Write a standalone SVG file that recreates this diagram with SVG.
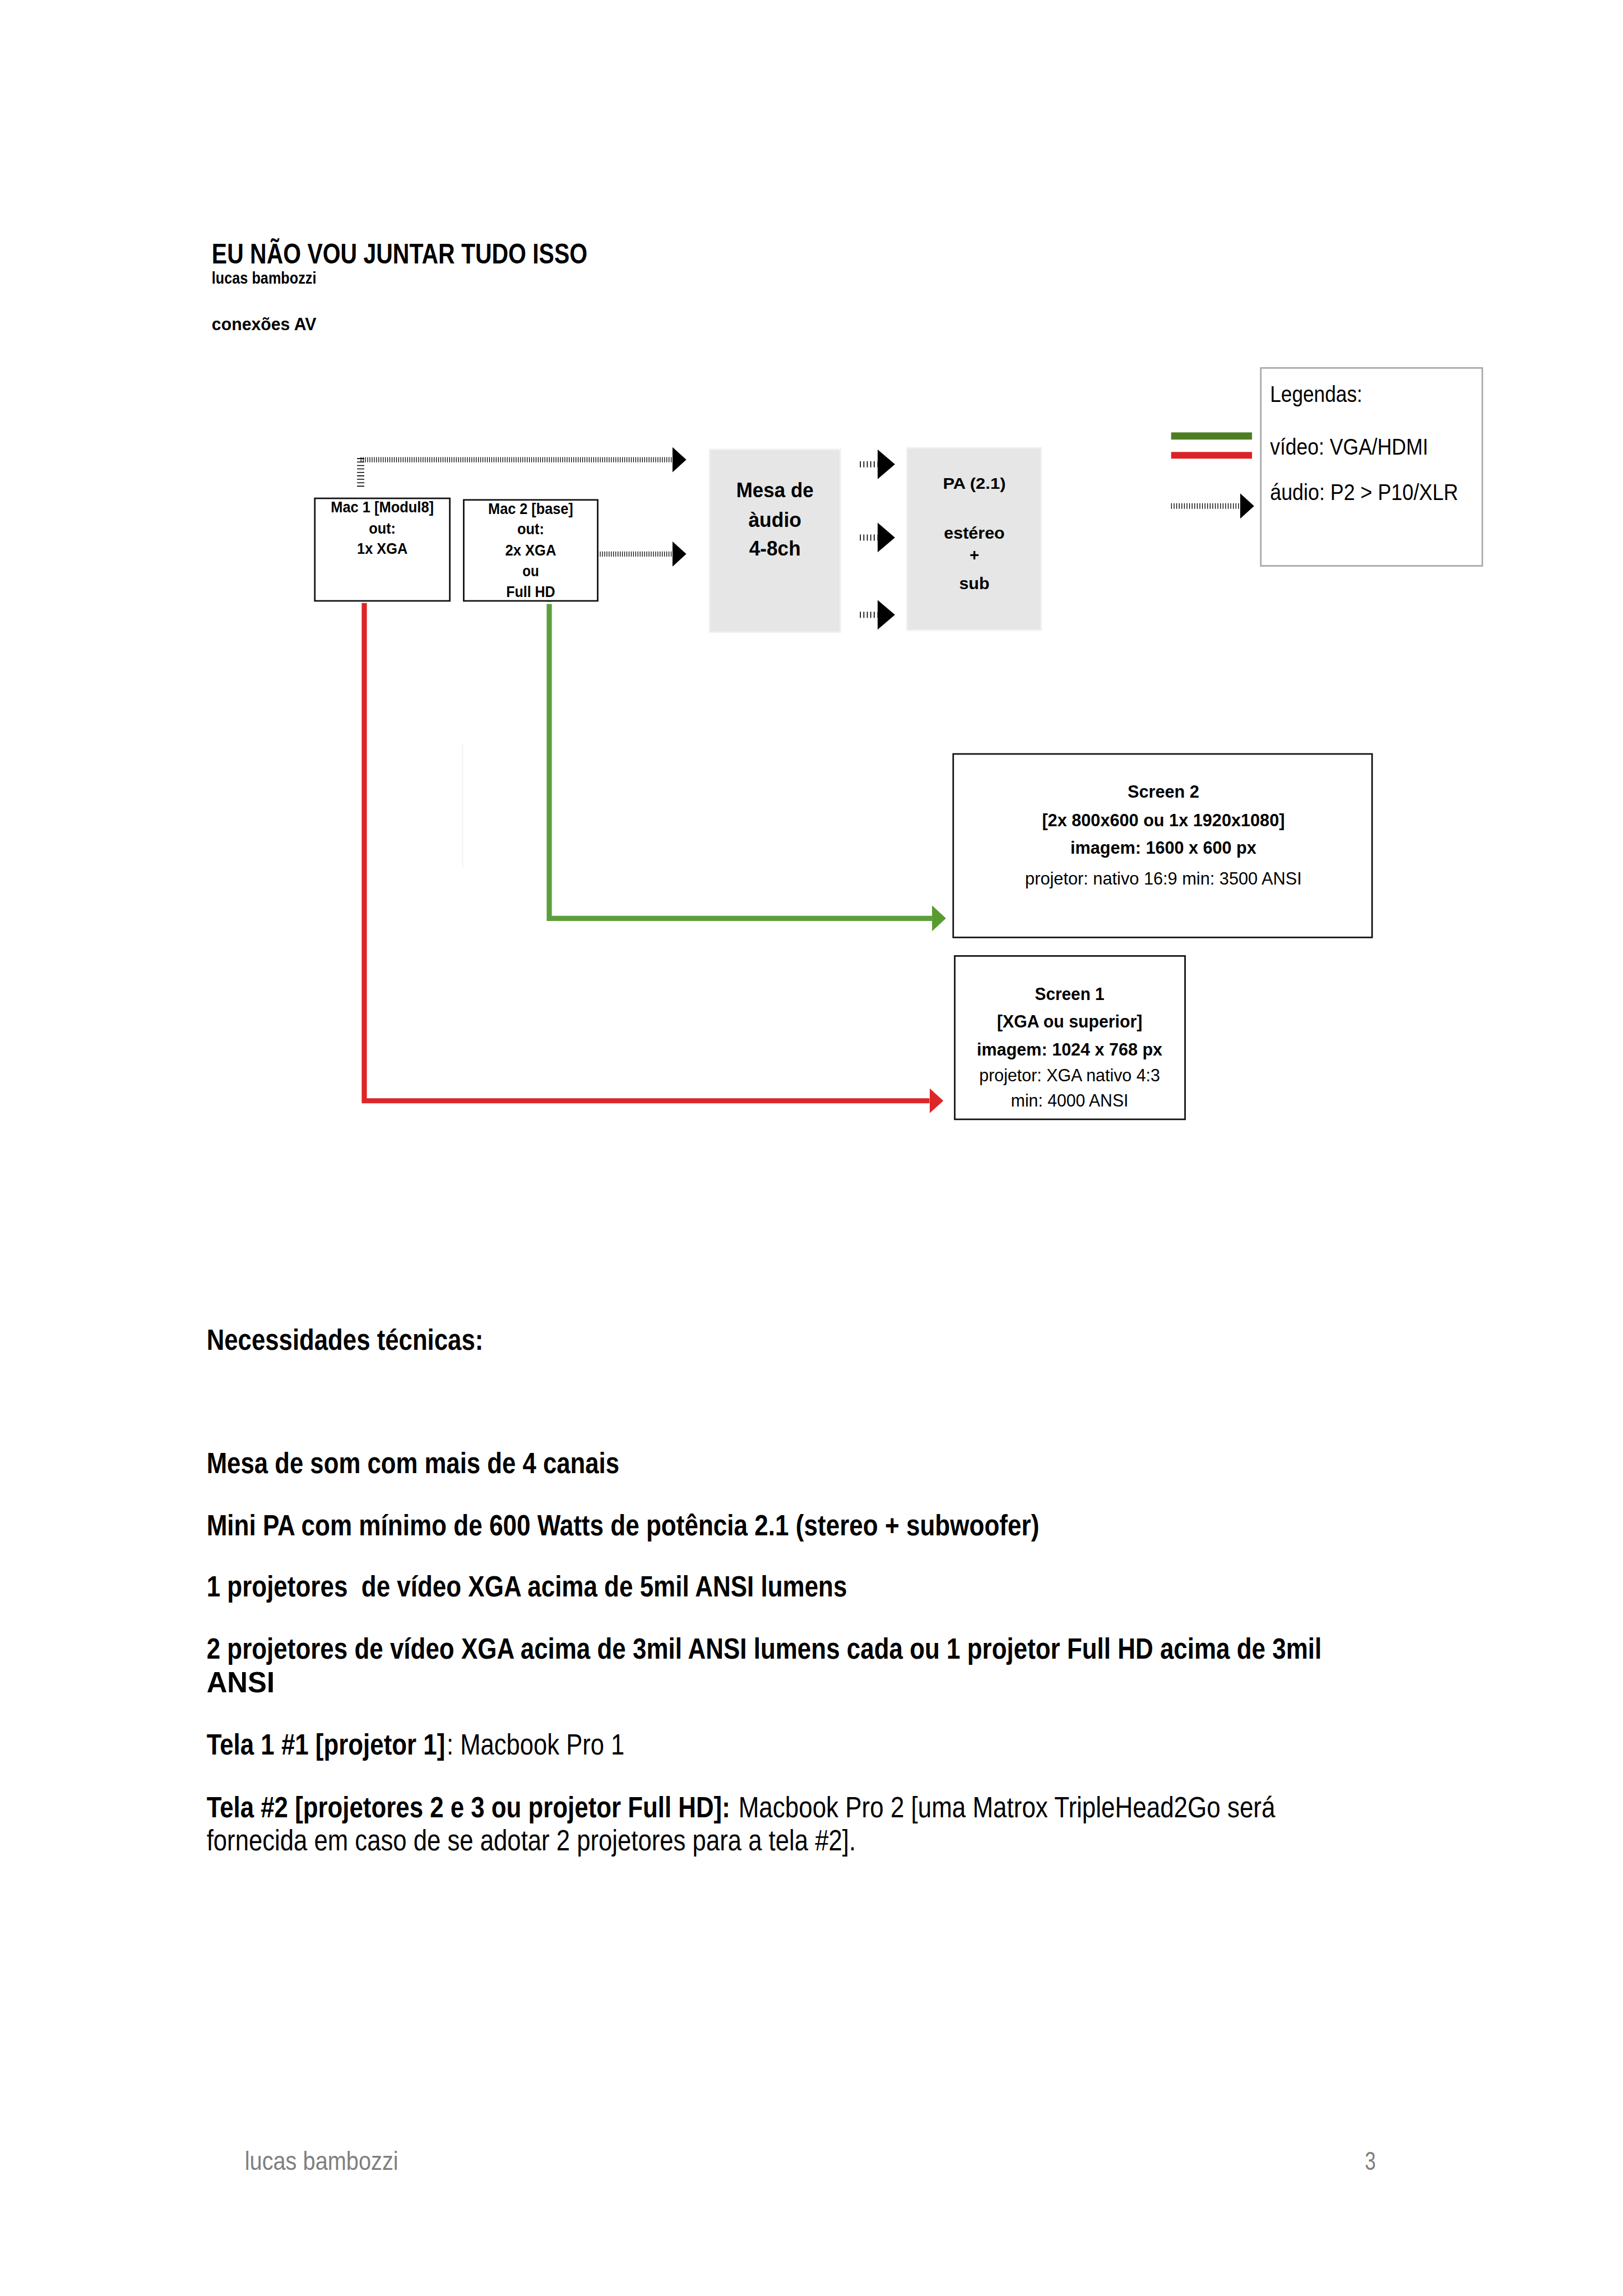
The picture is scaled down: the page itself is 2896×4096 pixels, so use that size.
<svg xmlns="http://www.w3.org/2000/svg" width="2896" height="4096" viewBox="0 0 2896 4096">
<style>
text{font-family:"Liberation Sans Narrow","Liberation Sans",Arial,sans-serif;fill:#000}
.b{font-weight:700}
.r{font-weight:400}
.m{text-anchor:middle}
.box{fill:#fff;stroke:#111;stroke-width:3}
.grey{fill:#e6e6e6;stroke:#f2f2f2;stroke-width:3}
.hh{fill:none;stroke:#000;stroke-width:10;stroke-dasharray:1.4 2.9}
.hv{fill:none;stroke:#000;stroke-width:14;stroke-dasharray:1.7 5}
.hs{fill:none;stroke:#000;stroke-width:12;stroke-dasharray:1.8 4.9}
.red{fill:none;stroke:#dc2628;stroke-width:10}
.green{fill:none;stroke:#5c9e3c;stroke-width:10}
.foot{fill:#7f7f7f}
</style>
<defs>
<marker id="ahb" markerUnits="userSpaceOnUse" markerWidth="27" markerHeight="49" refX="0" refY="24.5" orient="auto" viewBox="0 0 27 49"><path d="M0,0 L27,24.5 L0,49 Z" fill="#000"/></marker>
<marker id="ahbl" markerUnits="userSpaceOnUse" markerWidth="34" markerHeight="58" refX="0" refY="29" orient="auto" viewBox="0 0 34 58"><path d="M0,0 L34,29 L0,58 Z" fill="#000"/></marker>
<marker id="ahr" markerUnits="userSpaceOnUse" markerWidth="27" markerHeight="49" refX="0" refY="24.5" orient="auto" viewBox="0 0 27 49"><path d="M0,0 L27,24.5 L0,49 Z" fill="#dc2628"/></marker>
<marker id="ahg" markerUnits="userSpaceOnUse" markerWidth="27" markerHeight="50" refX="0" refY="25" orient="auto" viewBox="0 0 27 50"><path d="M0,0 L27,25 L0,50 Z" fill="#5a9b2f"/></marker>
</defs>
<rect width="2896" height="4096" fill="#fff"/>
<g transform="scale(0.919365)">
<g id="header">
<text class="b" x="411" y="511" font-size="54" textLength="729" lengthAdjust="spacingAndGlyphs">EU NÃO VOU JUNTAR TUDO ISSO</text>
<text class="b" x="411" y="550" font-size="32" textLength="203" lengthAdjust="spacingAndGlyphs">lucas bambozzi</text>
<text class="b" x="411" y="641" font-size="34" textLength="203" lengthAdjust="spacingAndGlyphs">conexões AV</text>
</g>
<g id="connectors">
<path class="hv" d="M700,889 V949"/>
<path class="hh" d="M700,892 H1305" marker-end="url(#ahb)"/>
<path class="hh" d="M1160,1075 H1305" marker-end="url(#ahb)"/>
<path class="hs" d="M1669,901 H1703" marker-end="url(#ahbl)"/>
<path class="hs" d="M1669,1043 H1703" marker-end="url(#ahbl)"/>
<path class="hs" d="M1669,1193 H1703" marker-end="url(#ahbl)"/>
<path class="red" d="M707,1170 V2136 H1804" marker-end="url(#ahr)"/>
<rect x="1061" y="1166" width="10" height="2" fill="#8fbf80"/>
<path class="green" d="M1066,1172 V1782 H1809" marker-end="url(#ahg)"/>
<path d="M898,1443 V1683" stroke="#f3f3f3" stroke-width="2" fill="none"/>
</g>
<g id="mac1">
<rect class="box" x="611" y="967" width="262" height="199"/>
<text class="b m" x="742" y="994" font-size="31" textLength="200" lengthAdjust="spacingAndGlyphs">Mac 1 [Modul8]</text>
<text class="b m" x="742" y="1035" font-size="31" textLength="52" lengthAdjust="spacingAndGlyphs">out:</text>
<text class="b m" x="742" y="1075" font-size="31" textLength="98" lengthAdjust="spacingAndGlyphs">1x XGA</text>
</g>
<g id="mac2">
<rect class="box" x="900" y="970" width="260" height="196"/>
<text class="b m" x="1030" y="997" font-size="31" textLength="165" lengthAdjust="spacingAndGlyphs">Mac 2 [base]</text>
<text class="b m" x="1030" y="1037" font-size="31" textLength="52" lengthAdjust="spacingAndGlyphs">out:</text>
<text class="b m" x="1030" y="1078" font-size="31" textLength="99" lengthAdjust="spacingAndGlyphs">2x XGA</text>
<text class="b m" x="1030" y="1118" font-size="31" textLength="32" lengthAdjust="spacingAndGlyphs">ou</text>
<text class="b m" x="1030" y="1158" font-size="31" textLength="95" lengthAdjust="spacingAndGlyphs">Full HD</text>
</g>
<g id="mesa">
<rect class="grey" x="1377" y="872" width="254" height="355"/>
<text class="b m" x="1504" y="965" font-size="40" textLength="150" lengthAdjust="spacingAndGlyphs">Mesa de</text>
<text class="b m" x="1504" y="1022" font-size="40" textLength="103" lengthAdjust="spacingAndGlyphs">àudio</text>
<text class="b m" x="1504" y="1078" font-size="40" textLength="100" lengthAdjust="spacingAndGlyphs">4-8ch</text>
</g>
<g id="pa">
<rect class="grey" x="1760" y="869" width="261" height="354"/>
<text class="b m" x="1891" y="948" font-size="31" textLength="122" lengthAdjust="spacingAndGlyphs">PA (2.1)</text>
<text class="b m" x="1891" y="1045" font-size="32" textLength="118" lengthAdjust="spacingAndGlyphs">estéreo</text>
<text class="b m" x="1891" y="1088" font-size="32">+</text>
<text class="b m" x="1891" y="1143" font-size="32" textLength="59" lengthAdjust="spacingAndGlyphs">sub</text>
</g>
<g id="legend">
<rect x="2447" y="714" width="430" height="384" fill="#fff" stroke="#a8a8a8" stroke-width="3"/>
<text class="r" x="2465" y="780" font-size="44" textLength="179" lengthAdjust="spacingAndGlyphs">Legendas:</text>
<text class="r" x="2465" y="882" font-size="44" textLength="307" lengthAdjust="spacingAndGlyphs">vídeo: VGA/HDMI</text>
<text class="r" x="2465" y="970" font-size="44" textLength="365" lengthAdjust="spacingAndGlyphs">áudio: P2 &gt; P10/XLR</text>
<rect x="2273" y="839" width="157" height="14" fill="#4e7e24"/>
<rect x="2273" y="877" width="157" height="13" fill="#db2327"/>
<path class="hs" d="M2273,982 H2407" style="stroke-dasharray:1.5 3.5;stroke-width:11" marker-end="url(#ahb)"/>
</g>
<g id="screen2">
<rect class="box" x="1850" y="1463" width="813" height="356"/>
<text class="b m" x="2258" y="1548" font-size="35" textLength="139" lengthAdjust="spacingAndGlyphs">Screen 2</text>
<text class="b m" x="2258" y="1603" font-size="35" textLength="471" lengthAdjust="spacingAndGlyphs">[2x 800x600 ou 1x 1920x1080]</text>
<text class="b m" x="2258" y="1657" font-size="35" textLength="361" lengthAdjust="spacingAndGlyphs">imagem: 1600 x 600 px</text>
<text class="r m" x="2258" y="1716" font-size="35" textLength="537" lengthAdjust="spacingAndGlyphs">projetor: nativo 16:9 min: 3500 ANSI</text>
</g>
<g id="screen1">
<rect class="box" x="1853" y="1855" width="447" height="317"/>
<text class="b m" x="2076" y="1940" font-size="35" textLength="135" lengthAdjust="spacingAndGlyphs">Screen 1</text>
<text class="b m" x="2076" y="1994" font-size="35" textLength="282" lengthAdjust="spacingAndGlyphs">[XGA ou superior]</text>
<text class="b m" x="2076" y="2048" font-size="35" textLength="360" lengthAdjust="spacingAndGlyphs">imagem: 1024 x 768 px</text>
<text class="r m" x="2076" y="2098" font-size="35" textLength="351" lengthAdjust="spacingAndGlyphs">projetor: XGA nativo 4:3</text>
<text class="r m" x="2076" y="2147" font-size="35" textLength="228" lengthAdjust="spacingAndGlyphs">min: 4000 ANSI</text>
</g>
<g id="body">
<text class="b" x="401" y="2619" font-size="56" textLength="537" lengthAdjust="spacingAndGlyphs">Necessidades técnicas:</text>
<text class="b" x="401" y="2859" font-size="56" textLength="801" lengthAdjust="spacingAndGlyphs">Mesa de som com mais de 4 canais</text>
<text class="b" x="401" y="2979" font-size="56" textLength="1616" lengthAdjust="spacingAndGlyphs">Mini PA com mínimo de 600 Watts de potência 2.1 (stereo + subwoofer)</text>
<text class="b" x="401" y="3098" font-size="56" textLength="1243" lengthAdjust="spacingAndGlyphs">1 projetores&#160; de vídeo XGA acima de 5mil ANSI lumens</text>
<text class="b" x="401" y="3218" font-size="56" textLength="2164" lengthAdjust="spacingAndGlyphs">2 projetores de vídeo XGA acima de 3mil ANSI lumens cada ou 1 projetor Full HD acima de 3mil</text>
<text class="b" x="401" y="3284" font-size="56" textLength="132" lengthAdjust="spacingAndGlyphs">ANSI</text>
<text y="3405" font-size="56"><tspan class="b" x="401" textLength="463" lengthAdjust="spacingAndGlyphs">Tela 1 #1 [projetor 1]</tspan><tspan class="r" x="867" textLength="345" lengthAdjust="spacingAndGlyphs">: Macbook Pro 1</tspan></text>
<text y="3526" font-size="56"><tspan class="b" x="401" textLength="1016" lengthAdjust="spacingAndGlyphs">Tela #2 [projetores 2 e 3 ou projetor Full HD]:</tspan><tspan class="r" x="1420" textLength="1055" lengthAdjust="spacingAndGlyphs"> Macbook Pro 2 [uma Matrox TripleHead2Go será</tspan></text>
<text class="r" x="401" y="3590" font-size="56" textLength="1260" lengthAdjust="spacingAndGlyphs">fornecida em caso de se adotar 2 projetores para a tela #2].</text>
</g>
<g id="footer">
<text class="r foot" x="475" y="4210" font-size="50" textLength="298" lengthAdjust="spacingAndGlyphs">lucas bambozzi</text>
<text class="r foot" x="2649" y="4211" font-size="50" textLength="21" lengthAdjust="spacingAndGlyphs">3</text>
</g>
</g>
</svg>
